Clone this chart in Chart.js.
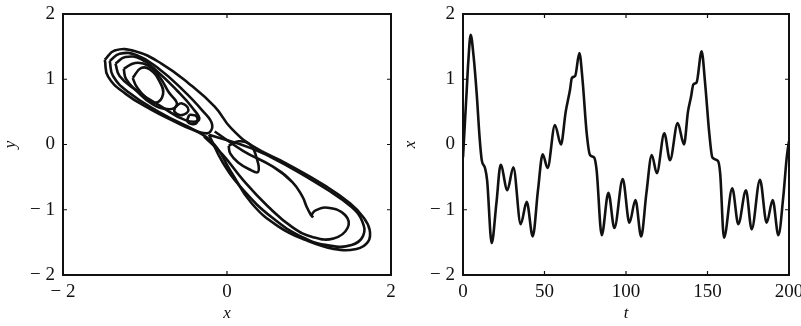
<!DOCTYPE html>
<html>
<head>
<meta charset="utf-8">
<script src="https://cdn.jsdelivr.net/npm/chart.js@4"></script>
<style>
  html, body { margin: 0; padding: 0; background: #fff; }
  #wrap { position: relative; width: 801px; height: 326px; overflow: hidden; }
  canvas { position: absolute; top: 0; }
  #phase { left: 0; }
  #series { left: 400px; }
</style>
</head>
<body>
<div id="wrap">
  <canvas id="phase" width="400" height="326"></canvas>
  <canvas id="series" width="401" height="326"></canvas>
</div>
<script>
// ---- left panel: phase portrait, loops (x, y)
const outerLoop = [
  [-1.49, 1.30], [-1.37, 1.44], [-1.12, 1.43], [-0.80, 1.24], [-0.47, 0.94], [-0.15, 0.58],
  [0.05, 0.25], [0.32, -0.03], [0.72, -0.29], [1.22, -0.65], [1.50, -0.90], [1.66, -1.11],
  [1.74, -1.31], [1.72, -1.49], [1.58, -1.60], [1.30, -1.60], [0.97, -1.47], [0.62, -1.25],
  [0.30, -0.90], [0.05, -0.42], [-0.20, 0.06], [-0.59, 0.32], [-0.92, 0.53], [-1.24, 0.78],
  [-1.45, 1.04]
];
const upperLoop1 = [
  [-1.43, 1.28], [-1.31, 1.39], [-1.10, 1.37], [-0.85, 1.18], [-0.55, 0.85], [-0.30, 0.52],
  [-0.18, 0.30], [-0.25, 0.17], [-0.52, 0.30], [-0.86, 0.52], [-1.20, 0.80], [-1.39, 1.05]
];
const upperLoop2 = [
  [-1.36, 1.24], [-1.24, 1.34], [-1.05, 1.31], [-0.85, 1.12], [-0.62, 0.84], [-0.42, 0.56],
  [-0.34, 0.38], [-0.50, 0.37], [-0.80, 0.58], [-1.12, 0.84], [-1.31, 1.05]
];
const upperLoop3 = [
  [-1.26, 1.16], [-1.12, 1.25], [-0.96, 1.21], [-0.82, 1.03], [-0.71, 0.80], [-0.61, 0.62],
  [-0.70, 0.54], [-0.91, 0.62], [-1.10, 0.82], [-1.23, 1.00]
];
const holeLoop = [
  [-1.15, 1.02], [-1.05, 1.17], [-0.94, 1.15], [-0.82, 0.96], [-0.78, 0.77], [-0.87, 0.64],
  [-0.99, 0.72], [-1.10, 0.88]
];
const bubbleA = [[-0.63, 0.58], [-0.55, 0.63], [-0.47, 0.53], [-0.55, 0.45], [-0.64, 0.50]];
const bubbleB = [[-0.46, 0.46], [-0.37, 0.43], [-0.38, 0.32], [-0.48, 0.35]];
const middleLoop = [
  [0.02, -0.02], [0.14, 0.05], [0.28, 0.00], [0.36, -0.20], [0.38, -0.42], [0.27, -0.38],
  [0.14, -0.28], [0.04, -0.14]
];
const lowerLoop = [
  [-0.22, 0.15], [0.30, -0.06], [0.74, -0.33], [1.22, -0.69], [1.52, -0.96], [1.65, -1.18],
  [1.66, -1.40], [1.52, -1.54], [1.25, -1.55], [0.92, -1.42], [0.55, -1.12], [0.20, -0.70],
  [-0.05, -0.28]
];
const lowerInner = [
  [-0.28, 0.12], [-0.05, -0.16], [0.20, -0.55], [0.50, -0.95], [0.80, -1.27], [1.05, -1.42],
  [1.30, -1.44], [1.47, -1.28], [1.44, -1.08], [1.23, -0.97], [1.08, -1.01], [1.02, -1.10]
];
const hookStrand = [
  [-0.15, 0.20], [0.20, -0.10], [0.56, -0.34], [0.80, -0.58], [0.92, -0.80], [0.97, -0.95],
  [1.01, -1.05], [1.05, -1.12]
];
const closedLoops = [outerLoop, upperLoop1, upperLoop2, upperLoop3, holeLoop, bubbleA, bubbleB,
  middleLoop, lowerLoop];
const openPaths = [lowerInner, hookStrand];

const phaseTicksX = [-2, 0, 2];
const phaseTicksY = [-2, -1, 0, 1, 2];

// ---- right panel: x(t)
const tValues = [0, 1.2, 2.3, 3.2, 4.7, 6.5, 8.4, 10.2, 11.5, 13.5, 14.8, 17.6, 20.5, 23.1, 27.2,
  30.9, 35.4, 39.1, 42.8, 46, 48.9, 51.9, 56.4, 60.1, 63, 65.6, 66.8, 68.8, 71.4, 73.3, 75.9,
  77.9, 80.5, 82, 85.1, 89.2, 92.9, 98.0, 102.1, 105.8, 109.3, 112.5, 115.8, 118.9, 123.5, 127,
  131.7, 135.6, 138, 139.9, 141.3, 143.3, 146.4, 148.5, 151.1, 153, 156.4, 157.8, 160.1, 165.2,
  168.9, 173.6, 177.1, 182.2, 186.3, 190, 193.5, 196.5, 198.6, 200];
const xValues = [-0.2, 0.35, 0.84, 1.25, 1.68, 1.35, 0.78, 0.1, -0.24, -0.36, -0.55, -1.51, -0.9,
  -0.31, -0.70, -0.35, -1.22, -0.88, -1.41, -0.7, -0.15, -0.36, 0.30, 0.0, 0.5, 0.83, 1.02, 1.05,
  1.40, 1.0, 0.17, -0.16, -0.2, -0.4, -1.39, -0.74, -1.28, -0.53, -1.20, -0.85, -1.41, -0.75,
  -0.16, -0.44, 0.17, -0.24, 0.33, 0.0, 0.5, 0.73, 0.92, 0.95, 1.43, 0.95, 0.17, -0.2, -0.25,
  -0.45, -1.43, -0.67, -1.22, -0.70, -1.30, -0.54, -1.2, -0.85, -1.39, -0.8, -0.2, 0.05];
const seriesTicksX = [0, 50, 100, 150, 200];
const seriesTicksY = [-2, -1, 0, 1, 2];

const serif = "'Liberation Serif', 'DejaVu Serif', serif";
const ink = '#111';

function fmt(v) {
  return v < 0 ? '\u2212 ' + Math.abs(v) : String(v);
}

// box round the plot area and short inward ticks
const framePlugin = {
  id: 'frame',
  afterDraw(chart) {
    const { ctx, chartArea: a, scales } = chart;
    ctx.save();
    ctx.strokeStyle = ink;
    ctx.lineWidth = 2;
    ctx.strokeRect(a.left, a.top, a.right - a.left, a.bottom - a.top);
    ctx.lineWidth = 1.2;
    ctx.beginPath();
    scales.x.ticks.forEach(t => {
      const px = scales.x.getPixelForValue(t.value);
      ctx.moveTo(px, a.bottom); ctx.lineTo(px, a.bottom - 4);
      ctx.moveTo(px, a.top); ctx.lineTo(px, a.top + 4);
    });
    scales.y.ticks.forEach(t => {
      const py = scales.y.getPixelForValue(t.value);
      ctx.moveTo(a.left, py); ctx.lineTo(a.left + 4, py);
      ctx.moveTo(a.right, py); ctx.lineTo(a.right - 4, py);
    });
    ctx.stroke();
    ctx.restore();
  }
};

function axes(xTicks, yTicks, xTitle, yTitle) {
  return {
    x: {
      type: 'linear',
      min: xTicks[0], max: xTicks[xTicks.length - 1],
      afterBuildTicks: s => { s.ticks = xTicks.map(v => ({ value: v })); },
      afterFit: s => { s.height = 51; s.paddingLeft = 0; s.paddingRight = 0; },
      grid: { display: false, drawTicks: false },
      border: { display: false },
      ticks: { color: ink, font: { family: serif, size: 19 }, padding: 6, maxRotation: 0, callback: fmt },
      title: { display: true, text: xTitle, color: ink, padding: { top: 0, bottom: 2 },
        font: { family: serif, size: 17, style: 'italic' } }
    },
    y: {
      type: 'linear',
      min: yTicks[0], max: yTicks[yTicks.length - 1],
      afterBuildTicks: s => { s.ticks = yTicks.map(v => ({ value: v })); },
      afterFit: s => { s.width = 63; s.paddingTop = 0; s.paddingBottom = 0; },
      grid: { display: false, drawTicks: false },
      border: { display: false },
      ticks: { color: ink, font: { family: serif, size: 19 }, padding: 8, callback: fmt },
      title: { display: true, text: yTitle, color: ink, padding: { top: 0, bottom: 0 },
        font: { family: serif, size: 17, style: 'italic' } }
    }
  };
}

const loopSets = closedLoops.map(p => ({
  data: p.concat([p[0]]).map(([x, y]) => ({ x, y })),
  borderColor: ink, borderWidth: 2.6, pointRadius: 0, showLine: true, tension: 0.45, fill: false
}));
const pathSets = openPaths.map(p => ({
  data: p.map(([x, y]) => ({ x, y })),
  borderColor: ink, borderWidth: 2.6, pointRadius: 0, showLine: true, tension: 0.45, fill: false
}));

new Chart(document.getElementById('phase'), {
  type: 'scatter',
  data: { datasets: loopSets.concat(pathSets) },
  options: {
    responsive: false, animation: false,
    layout: { padding: { top: 14, right: 9, left: 0, bottom: 0 } },
    plugins: { legend: { display: false }, tooltip: { enabled: false } },
    scales: axes(phaseTicksX, phaseTicksY, 'x', 'y')
  },
  plugins: [framePlugin]
});

new Chart(document.getElementById('series'), {
  type: 'line',
  data: {
    datasets: [{
      data: tValues.map((t, i) => ({ x: t, y: xValues[i] })),
      borderColor: ink, borderWidth: 2.6, pointRadius: 0, cubicInterpolationMode: 'monotone', fill: false
    }]
  },
  options: {
    responsive: false, animation: false,
    layout: { padding: { top: 14, right: 12, left: 0, bottom: 0 } },
    plugins: { legend: { display: false }, tooltip: { enabled: false } },
    scales: axes(seriesTicksX, seriesTicksY, 't', 'x')
  },
  plugins: [framePlugin]
});
</script>
</body>
</html>
